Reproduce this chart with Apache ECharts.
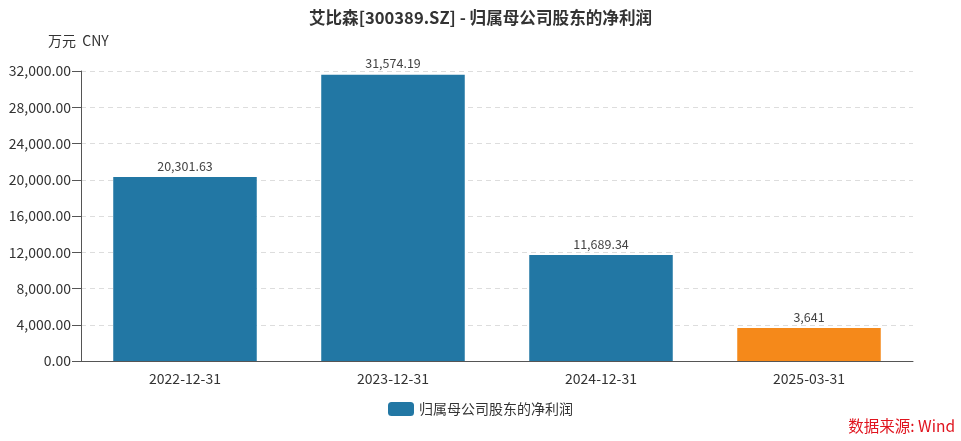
<!DOCTYPE html>
<html><head><meta charset="utf-8">
<script src="https://cdn.jsdelivr.net/npm/echarts@6/dist/echarts.min.js"></script>
<style>html,body{margin:0;padding:0;background:#fff}#c{width:961px;height:441px}</style>
</head><body><div id="c"></div>
<script>
const categories = ['2022-12-31','2023-12-31','2024-12-31','2025-03-31'];
const values = [20301.63, 31574.19, 11689.34, 3641];
const valueLabels = ['20,301.63','31,574.19','11,689.34','3,641'];
const barColors = ['#2277A4','#2277A4','#2277A4','#F5891A'];
const seriesName = '归属母公司股东的净利润';

const FONT = '"Noto Sans CJK SC","Noto Sans",sans-serif';
const chart = echarts.init(document.getElementById('c'), null, {renderer:'canvas'});
function fmt(v){return v.toLocaleString('en-US',{minimumFractionDigits:2,maximumFractionDigits:2});}
chart.setOption({
  animation:false,
  textStyle:{fontFamily:FONT},
  title:{text:'艾比森[300389.SZ] - 归属母公司股东的净利润',left:'center',top:4,
    textStyle:{fontSize:16.6,fontWeight:'bold',color:'#333',fontFamily:FONT}},
  graphic:[
    {type:'text',left:48,top:34,style:{text:'万元  CNY',font:'14px '+FONT,fill:'#333'}},
    {type:'text',right:6,top:418,style:{text:'数据来源: Wind',font:'15.5px '+FONT,fill:'#E0141E'}}
  ],
  legend:{bottom:20,left:'center',itemWidth:26,itemHeight:14,itemGap:10,
    textStyle:{fontSize:14,color:'#333',fontFamily:FONT},
    data:[{name:seriesName,itemStyle:{color:'#2277A4'}}]},
  grid:{left:81,right:48,top:71,bottom:80,containLabel:false},
  xAxis:{type:'category',data:categories,
    axisLine:{lineStyle:{color:'#555'}},
    axisTick:{alignWithLabel:true,length:8,lineStyle:{color:'#555'}},
    axisLabel:{fontSize:14,color:'#333',margin:11,fontFamily:FONT}},
  yAxis:{type:'value',min:0,max:32000,interval:4000,
    axisLine:{show:true,lineStyle:{color:'#555'}},
    axisTick:{show:true,length:9,lineStyle:{color:'#555'}},
    axisLabel:{fontSize:14,color:'#333',margin:10,formatter:fmt,fontFamily:FONT},
    splitLine:{lineStyle:{color:'#ddd',type:[5,4]}}},
  series:[{name:seriesName,type:'bar',barWidth:'69%',
    data:values.map((v,i)=>({value:v,itemStyle:{color:barColors[i]}})),
    label:{show:true,position:'top',distance:5,fontSize:12.5,color:'#444',fontFamily:FONT,
      formatter:p=>valueLabels[p.dataIndex]}}]
});
</script></body></html>
